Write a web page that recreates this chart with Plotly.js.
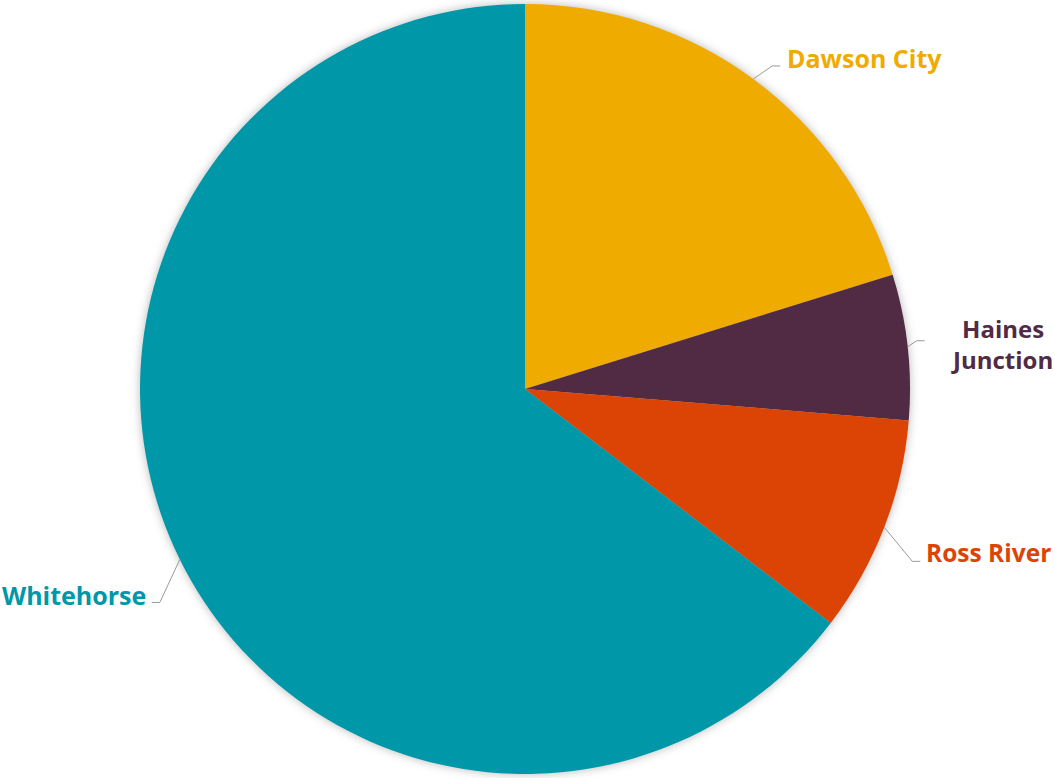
<!DOCTYPE html>
<html><head><meta charset="utf-8">
<script src="https://cdn.plot.ly/plotly-3.0.1.min.js"></script>
<style>
html,body{margin:0;padding:0;background:#fff;}
#chart{width:1055px;height:778px;}
.pielayer{filter:drop-shadow(0 0 5px rgba(0,0,0,0.28));}
</style></head>
<body><div id="chart"></div>
<script>
const categories = ["Dawson City", "Haines Junction", "Ross River", "Whitehorse"];
const labelTexts = ["Dawson City", "Haines<br>Junction", "Ross River", "Whitehorse"];
const values = [20.2, 6.1, 9.1, 64.6];
const colors = ["#F0AB00", "#512A44", "#DC4405", "#0097A9"];

const W = 1055, H = 778, M = {l:0, r:0, t:4, b:4};
const domX = [0.13, 0.8653];
const pw = W - M.l - M.r, ph = H - M.t - M.b;
const cx = M.l + pw * (domX[0] + domX[1]) / 2;
const cy = M.t + ph / 2;
const R = Math.min(pw * (domX[1] - domX[0]), ph) / 2;

// leader line styling: elbow offset from the slice edge, horizontal run, text gap/offset
const leader = [
  {ex: 19, ey: -13, run: 8, gap: 5, dy: -8, size: 25, anchor: 'side'},
  {ex: 9, ey: -6, run: 8, gap: 77, dy: 3, size: 24, anchor: 'center'},
  {ex: 28, ey: 34, run: 8, gap: 4, dy: -9, size: 24.5, anchor: 'side'},
  {ex: -20, ey: 43, run: 8, gap: 4, dy: -7, size: 25, anchor: 'side'}
];

const toPaperX = px => (px - M.l) / pw;
const toPaperY = py => (H - M.b - py) / ph;

const total = values.reduce((a, b) => a + b, 0);
let cum = 0;
const shapes = [], annotations = [];
values.forEach((v, i) => {
  const mid = (cum + v / 2) / total * 2 * Math.PI;
  cum += v;
  const dx = Math.sin(mid), dy = -Math.cos(mid);
  const sx = cx + R * dx, sy = cy + R * dy;
  const L = leader[i];
  const ex = sx + L.ex, ey = sy + L.ey;
  const side = dx >= 0 ? 1 : -1;
  const hx = ex + side * L.run;
  shapes.push({
    type: 'path', xref: 'paper', yref: 'paper',
    path: `M ${toPaperX(sx)} ${toPaperY(sy)} L ${toPaperX(ex)} ${toPaperY(ey)} L ${toPaperX(hx)} ${toPaperY(ey)}`,
    line: {color: '#9a9a9a', width: 1}
  });
  annotations.push({
    xref: 'paper', yref: 'paper', x: toPaperX(hx + side * L.gap), y: toPaperY(ey + L.dy),
    xanchor: L.anchor === 'center' ? 'center' : (side > 0 ? 'left' : 'right'), yanchor: 'middle',
    text: '<b>' + labelTexts[i] + '</b>', showarrow: false, align: 'center',
    font: {family: 'Open Sans, sans-serif', size: L.size, color: colors[i]}
  });
});

const data = [{
  type: 'pie', labels: categories, values: values, sort: false,
  direction: 'clockwise', rotation: 0,
  marker: {colors: colors, line: {width: 0}},
  textinfo: 'none', hoverinfo: 'label+percent',
  domain: {x: domX, y: [0, 1]}, showlegend: false
}];
const layout = {
  width: W, height: H, margin: M, showlegend: false,
  paper_bgcolor: '#fff', plot_bgcolor: '#fff',
  shapes: shapes, annotations: annotations
};
Plotly.newPlot('chart', data, layout, {displayModeBar: false, staticPlot: true});
</script></body></html>
